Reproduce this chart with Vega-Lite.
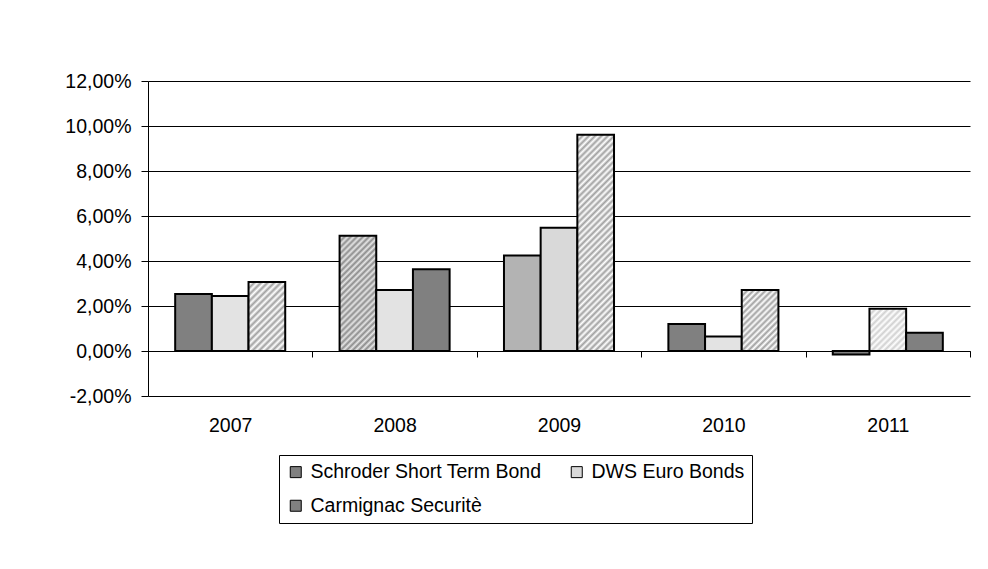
{
  "$schema": "https://vega.github.io/schema/vega-lite/v6.json",
  "width": 822,
  "height": 315,
  "autosize": {"type": "none"},
  "padding": {"left": 148, "top": 81, "right": 18, "bottom": 173},
  "background": "#ffffff",
  "config": {
    "font": "Liberation Sans",
    "view": {"stroke": null},
    "locale": {"number": {"decimal": ",", "thousands": ".", "grouping": [3], "currency": ["", " €"], "minus": "-"}}
  },
  "data": {
    "values": [
      {"year": "2007", "fund": "Schroder Short Term Bond", "ret": 0.0253},
      {"year": "2007", "fund": "DWS Euro Bonds", "ret": 0.0244},
      {"year": "2007", "fund": "Carmignac Securitè", "ret": 0.0307},
      {"year": "2008", "fund": "Schroder Short Term Bond", "ret": 0.0512},
      {"year": "2008", "fund": "DWS Euro Bonds", "ret": 0.0271},
      {"year": "2008", "fund": "Carmignac Securitè", "ret": 0.0363},
      {"year": "2009", "fund": "Schroder Short Term Bond", "ret": 0.0424},
      {"year": "2009", "fund": "DWS Euro Bonds", "ret": 0.0548},
      {"year": "2009", "fund": "Carmignac Securitè", "ret": 0.0961},
      {"year": "2010", "fund": "Schroder Short Term Bond", "ret": 0.012},
      {"year": "2010", "fund": "DWS Euro Bonds", "ret": 0.0064},
      {"year": "2010", "fund": "Carmignac Securitè", "ret": 0.0271},
      {"year": "2011", "fund": "Schroder Short Term Bond", "ret": -0.0016},
      {"year": "2011", "fund": "DWS Euro Bonds", "ret": 0.0188},
      {"year": "2011", "fund": "Carmignac Securitè", "ret": 0.0081}
    ]
  },
  "mark": {"type": "bar", "stroke": "#000000", "strokeWidth": 2},
  "encoding": {
    "x": {
      "field": "year", "type": "nominal", "sort": null,
      "scale": {"paddingInner": 0, "paddingOuter": 0},
      "axis": {"title": null, "orient": "bottom", "offset": -45, "labelAngle": 0, "labelFontSize": 19.5, "labelColor": "#000000",
        "labelPadding": 59, "tickBand": "extent", "tickSize": 6, "tickColor": "#000000", "domainColor": "#000000", "grid": false}
    },
    "xOffset": {
      "field": "fund", "type": "nominal",
      "sort": ["Schroder Short Term Bond", "DWS Euro Bonds", "Carmignac Securitè"],
      "scale": {"paddingInner": 0, "paddingOuter": 0.741}
    },
    "y": {
      "field": "ret", "type": "quantitative",
      "scale": {"domain": [-0.02, 0.12], "nice": false, "zero": false},
      "axis": {"title": null, "values": [-0.02, 0, 0.02, 0.04, 0.06, 0.08, 0.1, 0.12], "format": ".2%",
        "labelFontSize": 19.5, "labelColor": "#000000", "labelPadding": 10, "tickSize": 7, "tickColor": "#000000",
        "domainColor": "#000000", "grid": true, "gridColor": "#000000", "gridOpacity": 1, "gridWidth": 1}
    },
    "fill": {
      "field": "fund", "type": "nominal",
      "sort": ["Schroder Short Term Bond", "DWS Euro Bonds", "Carmignac Securitè"],
      "scale": {"domain": ["Schroder Short Term Bond", "DWS Euro Bonds", "Carmignac Securitè"], "range": ["#808080", "#d9d9d9", "#808080"]},
      "legend": {
        "title": null, "orient": "none", "legendX": 131, "legendY": 374, "columns": 2, "direction": "horizontal",
        "padding": 7, "strokeColor": "#000000", "fillColor": "#ffffff",
        "labelFontSize": 19.5, "labelColor": "#000000", "labelOffset": 5, "labelLimit": 400,
        "symbolType": "square", "symbolSize": 121, "symbolStrokeColor": "#000000", "symbolStrokeWidth": 1,
        "columnPadding": 25, "rowPadding": 13
      },
      "condition": [
        {"test": "datum.year === '2007' && datum.fund === 'DWS Euro Bonds'", "value": "#e3e3e3"},
        {"test": "datum.year === '2008' && datum.fund === 'DWS Euro Bonds'", "value": "#e3e3e3"},
        {"test": "datum.year === '2010' && datum.fund === 'DWS Euro Bonds'", "value": "#e3e3e3"},
        {"test": "datum.year === '2009' && datum.fund === 'Schroder Short Term Bond'", "value": "#b3b3b3"},
        {"test": "datum.year === '2008' && datum.fund === 'Schroder Short Term Bond'", "value": {
          "gradient": "linear", "x1": 0, "y1": 0, "x2": 0.3811, "y2": 1.1971,
          "stops": [
            {"offset": 0, "color": "#8c8c8c"}, {"offset": 0.02, "color": "#e6e6e6"}, {"offset": 0.04, "color": "#8c8c8c"}, {"offset": 0.06, "color": "#e6e6e6"},
            {"offset": 0.08, "color": "#8c8c8c"}, {"offset": 0.1, "color": "#e6e6e6"}, {"offset": 0.12, "color": "#8c8c8c"}, {"offset": 0.14, "color": "#e6e6e6"},
            {"offset": 0.16, "color": "#8c8c8c"}, {"offset": 0.18, "color": "#e6e6e6"}, {"offset": 0.2, "color": "#8c8c8c"}, {"offset": 0.22, "color": "#e6e6e6"},
            {"offset": 0.24, "color": "#8c8c8c"}, {"offset": 0.26, "color": "#e6e6e6"}, {"offset": 0.28, "color": "#8c8c8c"}, {"offset": 0.3, "color": "#e6e6e6"},
            {"offset": 0.32, "color": "#8c8c8c"}, {"offset": 0.34, "color": "#e6e6e6"}, {"offset": 0.36, "color": "#8c8c8c"}, {"offset": 0.38, "color": "#e6e6e6"},
            {"offset": 0.4, "color": "#8c8c8c"}, {"offset": 0.42, "color": "#e6e6e6"}, {"offset": 0.44, "color": "#8c8c8c"}, {"offset": 0.46, "color": "#e6e6e6"},
            {"offset": 0.48, "color": "#8c8c8c"}, {"offset": 0.5, "color": "#e6e6e6"}, {"offset": 0.52, "color": "#8c8c8c"}, {"offset": 0.54, "color": "#e6e6e6"},
            {"offset": 0.56, "color": "#8c8c8c"}, {"offset": 0.58, "color": "#e6e6e6"}, {"offset": 0.6, "color": "#8c8c8c"}, {"offset": 0.62, "color": "#e6e6e6"},
            {"offset": 0.64, "color": "#8c8c8c"}, {"offset": 0.66, "color": "#e6e6e6"}, {"offset": 0.68, "color": "#8c8c8c"}, {"offset": 0.7, "color": "#e6e6e6"},
            {"offset": 0.72, "color": "#8c8c8c"}, {"offset": 0.74, "color": "#e6e6e6"}, {"offset": 0.76, "color": "#8c8c8c"}, {"offset": 0.78, "color": "#e6e6e6"},
            {"offset": 0.8, "color": "#8c8c8c"}, {"offset": 0.82, "color": "#e6e6e6"}, {"offset": 0.84, "color": "#8c8c8c"}, {"offset": 0.86, "color": "#e6e6e6"},
            {"offset": 0.88, "color": "#8c8c8c"}, {"offset": 0.9, "color": "#e6e6e6"}, {"offset": 0.92, "color": "#8c8c8c"}, {"offset": 0.94, "color": "#e6e6e6"},
            {"offset": 0.96, "color": "#8c8c8c"}, {"offset": 0.98, "color": "#e6e6e6"}, {"offset": 1, "color": "#8c8c8c"}
          ]}},
        {"test": "datum.year === '2007' && datum.fund === 'Carmignac Securitè'", "value": {
          "gradient": "linear", "x1": 0, "y1": 0, "x2": 0.634, "y2": 1.1943,
          "stops": [
            {"offset": 0, "color": "#a0a0a0"}, {"offset": 0.03125, "color": "#ffffff"}, {"offset": 0.0625, "color": "#a0a0a0"}, {"offset": 0.09375, "color": "#ffffff"},
            {"offset": 0.125, "color": "#a0a0a0"}, {"offset": 0.15625, "color": "#ffffff"}, {"offset": 0.1875, "color": "#a0a0a0"}, {"offset": 0.21875, "color": "#ffffff"},
            {"offset": 0.25, "color": "#a0a0a0"}, {"offset": 0.28125, "color": "#ffffff"}, {"offset": 0.3125, "color": "#a0a0a0"}, {"offset": 0.34375, "color": "#ffffff"},
            {"offset": 0.375, "color": "#a0a0a0"}, {"offset": 0.40625, "color": "#ffffff"}, {"offset": 0.4375, "color": "#a0a0a0"}, {"offset": 0.46875, "color": "#ffffff"},
            {"offset": 0.5, "color": "#a0a0a0"}, {"offset": 0.53125, "color": "#ffffff"}, {"offset": 0.5625, "color": "#a0a0a0"}, {"offset": 0.59375, "color": "#ffffff"},
            {"offset": 0.625, "color": "#a0a0a0"}, {"offset": 0.65625, "color": "#ffffff"}, {"offset": 0.6875, "color": "#a0a0a0"}, {"offset": 0.71875, "color": "#ffffff"},
            {"offset": 0.75, "color": "#a0a0a0"}, {"offset": 0.78125, "color": "#ffffff"}, {"offset": 0.8125, "color": "#a0a0a0"}, {"offset": 0.84375, "color": "#ffffff"},
            {"offset": 0.875, "color": "#a0a0a0"}, {"offset": 0.90625, "color": "#ffffff"}, {"offset": 0.9375, "color": "#a0a0a0"}, {"offset": 0.96875, "color": "#ffffff"},
            {"offset": 1, "color": "#a0a0a0"}
          ]}},
        {"test": "datum.year === '2010' && datum.fund === 'Carmignac Securitè'", "value": {
          "gradient": "linear", "x1": 0, "y1": 0, "x2": 0.7072, "y2": 1.1761,
          "stops": [
            {"offset": 0, "color": "#a0a0a0"}, {"offset": 0.03125, "color": "#ffffff"}, {"offset": 0.0625, "color": "#a0a0a0"}, {"offset": 0.09375, "color": "#ffffff"},
            {"offset": 0.125, "color": "#a0a0a0"}, {"offset": 0.15625, "color": "#ffffff"}, {"offset": 0.1875, "color": "#a0a0a0"}, {"offset": 0.21875, "color": "#ffffff"},
            {"offset": 0.25, "color": "#a0a0a0"}, {"offset": 0.28125, "color": "#ffffff"}, {"offset": 0.3125, "color": "#a0a0a0"}, {"offset": 0.34375, "color": "#ffffff"},
            {"offset": 0.375, "color": "#a0a0a0"}, {"offset": 0.40625, "color": "#ffffff"}, {"offset": 0.4375, "color": "#a0a0a0"}, {"offset": 0.46875, "color": "#ffffff"},
            {"offset": 0.5, "color": "#a0a0a0"}, {"offset": 0.53125, "color": "#ffffff"}, {"offset": 0.5625, "color": "#a0a0a0"}, {"offset": 0.59375, "color": "#ffffff"},
            {"offset": 0.625, "color": "#a0a0a0"}, {"offset": 0.65625, "color": "#ffffff"}, {"offset": 0.6875, "color": "#a0a0a0"}, {"offset": 0.71875, "color": "#ffffff"},
            {"offset": 0.75, "color": "#a0a0a0"}, {"offset": 0.78125, "color": "#ffffff"}, {"offset": 0.8125, "color": "#a0a0a0"}, {"offset": 0.84375, "color": "#ffffff"},
            {"offset": 0.875, "color": "#a0a0a0"}, {"offset": 0.90625, "color": "#ffffff"}, {"offset": 0.9375, "color": "#a0a0a0"}, {"offset": 0.96875, "color": "#ffffff"},
            {"offset": 1, "color": "#a0a0a0"}
          ]}},
        {"test": "datum.year === '2009' && datum.fund === 'Carmignac Securitè'", "value": {
          "gradient": "linear", "x1": 0, "y1": 0, "x2": 0.1929, "y2": 1.1369,
          "stops": [
            {"offset": 0, "color": "#a0a0a0"}, {"offset": 0.0125, "color": "#ffffff"}, {"offset": 0.025, "color": "#a0a0a0"}, {"offset": 0.0375, "color": "#ffffff"},
            {"offset": 0.05, "color": "#a0a0a0"}, {"offset": 0.0625, "color": "#ffffff"}, {"offset": 0.075, "color": "#a0a0a0"}, {"offset": 0.0875, "color": "#ffffff"},
            {"offset": 0.1, "color": "#a0a0a0"}, {"offset": 0.1125, "color": "#ffffff"}, {"offset": 0.125, "color": "#a0a0a0"}, {"offset": 0.1375, "color": "#ffffff"},
            {"offset": 0.15, "color": "#a0a0a0"}, {"offset": 0.1625, "color": "#ffffff"}, {"offset": 0.175, "color": "#a0a0a0"}, {"offset": 0.1875, "color": "#ffffff"},
            {"offset": 0.2, "color": "#a0a0a0"}, {"offset": 0.2125, "color": "#ffffff"}, {"offset": 0.225, "color": "#a0a0a0"}, {"offset": 0.2375, "color": "#ffffff"},
            {"offset": 0.25, "color": "#a0a0a0"}, {"offset": 0.2625, "color": "#ffffff"}, {"offset": 0.275, "color": "#a0a0a0"}, {"offset": 0.2875, "color": "#ffffff"},
            {"offset": 0.3, "color": "#a0a0a0"}, {"offset": 0.3125, "color": "#ffffff"}, {"offset": 0.325, "color": "#a0a0a0"}, {"offset": 0.3375, "color": "#ffffff"},
            {"offset": 0.35, "color": "#a0a0a0"}, {"offset": 0.3625, "color": "#ffffff"}, {"offset": 0.375, "color": "#a0a0a0"}, {"offset": 0.3875, "color": "#ffffff"},
            {"offset": 0.4, "color": "#a0a0a0"}, {"offset": 0.4125, "color": "#ffffff"}, {"offset": 0.425, "color": "#a0a0a0"}, {"offset": 0.4375, "color": "#ffffff"},
            {"offset": 0.45, "color": "#a0a0a0"}, {"offset": 0.4625, "color": "#ffffff"}, {"offset": 0.475, "color": "#a0a0a0"}, {"offset": 0.4875, "color": "#ffffff"},
            {"offset": 0.5, "color": "#a0a0a0"}, {"offset": 0.5125, "color": "#ffffff"}, {"offset": 0.525, "color": "#a0a0a0"}, {"offset": 0.5375, "color": "#ffffff"},
            {"offset": 0.55, "color": "#a0a0a0"}, {"offset": 0.5625, "color": "#ffffff"}, {"offset": 0.575, "color": "#a0a0a0"}, {"offset": 0.5875, "color": "#ffffff"},
            {"offset": 0.6, "color": "#a0a0a0"}, {"offset": 0.6125, "color": "#ffffff"}, {"offset": 0.625, "color": "#a0a0a0"}, {"offset": 0.6375, "color": "#ffffff"},
            {"offset": 0.65, "color": "#a0a0a0"}, {"offset": 0.6625, "color": "#ffffff"}, {"offset": 0.675, "color": "#a0a0a0"}, {"offset": 0.6875, "color": "#ffffff"},
            {"offset": 0.7, "color": "#a0a0a0"}, {"offset": 0.7125, "color": "#ffffff"}, {"offset": 0.725, "color": "#a0a0a0"}, {"offset": 0.7375, "color": "#ffffff"},
            {"offset": 0.75, "color": "#a0a0a0"}, {"offset": 0.7625, "color": "#ffffff"}, {"offset": 0.775, "color": "#a0a0a0"}, {"offset": 0.7875, "color": "#ffffff"},
            {"offset": 0.8, "color": "#a0a0a0"}, {"offset": 0.8125, "color": "#ffffff"}, {"offset": 0.825, "color": "#a0a0a0"}, {"offset": 0.8375, "color": "#ffffff"},
            {"offset": 0.85, "color": "#a0a0a0"}, {"offset": 0.8625, "color": "#ffffff"}, {"offset": 0.875, "color": "#a0a0a0"}, {"offset": 0.8875, "color": "#ffffff"},
            {"offset": 0.9, "color": "#a0a0a0"}, {"offset": 0.9125, "color": "#ffffff"}, {"offset": 0.925, "color": "#a0a0a0"}, {"offset": 0.9375, "color": "#ffffff"},
            {"offset": 0.95, "color": "#a0a0a0"}, {"offset": 0.9625, "color": "#ffffff"}, {"offset": 0.975, "color": "#a0a0a0"}, {"offset": 0.9875, "color": "#ffffff"},
            {"offset": 1, "color": "#a0a0a0"}
          ]}},
        {"test": "datum.year === '2011' && datum.fund === 'DWS Euro Bonds'", "value": {
          "gradient": "linear", "x1": 0, "y1": 0, "x2": 0.9242, "y2": 1.0658,
          "stops": [
            {"offset": 0, "color": "#d0d0d0"}, {"offset": 0.04, "color": "#ffffff"}, {"offset": 0.08, "color": "#d0d0d0"}, {"offset": 0.12, "color": "#ffffff"},
            {"offset": 0.16, "color": "#d0d0d0"}, {"offset": 0.2, "color": "#ffffff"}, {"offset": 0.24, "color": "#d0d0d0"}, {"offset": 0.28, "color": "#ffffff"},
            {"offset": 0.32, "color": "#d0d0d0"}, {"offset": 0.36, "color": "#ffffff"}, {"offset": 0.4, "color": "#d0d0d0"}, {"offset": 0.44, "color": "#ffffff"},
            {"offset": 0.48, "color": "#d0d0d0"}, {"offset": 0.52, "color": "#ffffff"}, {"offset": 0.56, "color": "#d0d0d0"}, {"offset": 0.6, "color": "#ffffff"},
            {"offset": 0.64, "color": "#d0d0d0"}, {"offset": 0.68, "color": "#ffffff"}, {"offset": 0.72, "color": "#d0d0d0"}, {"offset": 0.76, "color": "#ffffff"},
            {"offset": 0.8, "color": "#d0d0d0"}, {"offset": 0.84, "color": "#ffffff"}, {"offset": 0.88, "color": "#d0d0d0"}, {"offset": 0.92, "color": "#ffffff"},
            {"offset": 0.96, "color": "#d0d0d0"}, {"offset": 1, "color": "#ffffff"}
          ]}}
      ]
    }
  }
}
